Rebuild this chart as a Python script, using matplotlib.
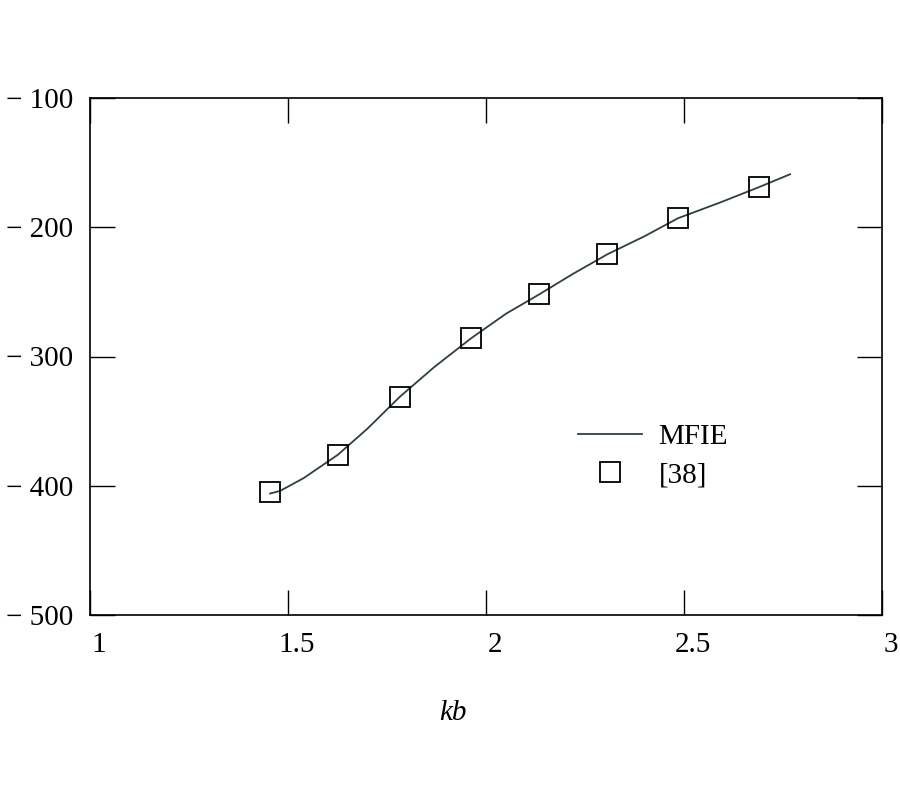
import numpy as np
import matplotlib
matplotlib.use("Agg")
import matplotlib.pyplot as plt
from matplotlib.transforms import ScaledTranslation

# MFIE curve
kb_line = [1.455, 1.48, 1.54, 1.626, 1.70, 1.783, 1.87, 1.962, 2.05,
           2.134, 2.22, 2.306, 2.40, 2.485, 2.59, 2.689, 2.768]
val_line = [-406, -404, -394, -376, -356, -331, -308, -286, -267,
            -252, -236, -221, -207, -193, -181, -169, -159]

# reference [38] points
kb_ref = [1.455, 1.626, 1.783, 1.962, 2.134, 2.306, 2.485, 2.689]
val_ref = [-405, -376, -331, -286, -252, -221, -193, -169]

x_ticks = [1, 1.5, 2, 2.5, 3]
x_labels = ["1", "1.5", "2", "2.5", "3"]
y_ticks = [-500, -400, -300, -200, -100]
y_labels = ["\u2212 500", "\u2212 400", "\u2212 300", "\u2212 200", "\u2212 100"]

plt.rcParams['font.family'] = ['Liberation Serif', 'DejaVu Serif']

fig = plt.figure(figsize=(9, 8), dpi=100)
ax = fig.add_axes([0.1, 0.23125, 0.88, 0.64625])

ax.plot(kb_line, val_line, color="#2f3f3f", lw=1.3, label="MFIE")
ax.plot(kb_ref, val_ref, ls="none", marker="s", ms=15, mfc="none",
        mec="black", mew=1.3, label="[38]")

ax.set_xlim(1, 3)
ax.set_ylim(-500, -100)
ax.set_xticks(x_ticks)
ax.set_xticklabels(x_labels)
ax.set_yticks(y_ticks)
ax.set_yticklabels(y_labels)

ax.tick_params(direction="in", length=18, width=1, top=True, right=True,
               labelsize=21, pad=12)
for sp in ax.spines.values():
    sp.set_linewidth(1.2)

# labels sit a bit right of their ticks in the original
off = ScaledTranslation(9 / 100, 0, fig.dpi_scale_trans)
for lab in ax.get_xticklabels():
    lab.set_transform(lab.get_transform() + off)

ax.set_xlabel("kb", fontsize=21, style="italic")
ax.xaxis.set_label_coords(0.458, -0.164)

leg = ax.legend(frameon=False, fontsize=21, loc="center left",
                bbox_to_anchor=(0.598, 0.3075), borderpad=0,
                handlelength=2.2, handletextpad=0.55, labelspacing=0.4)

fig.savefig("out.png", dpi=100)
